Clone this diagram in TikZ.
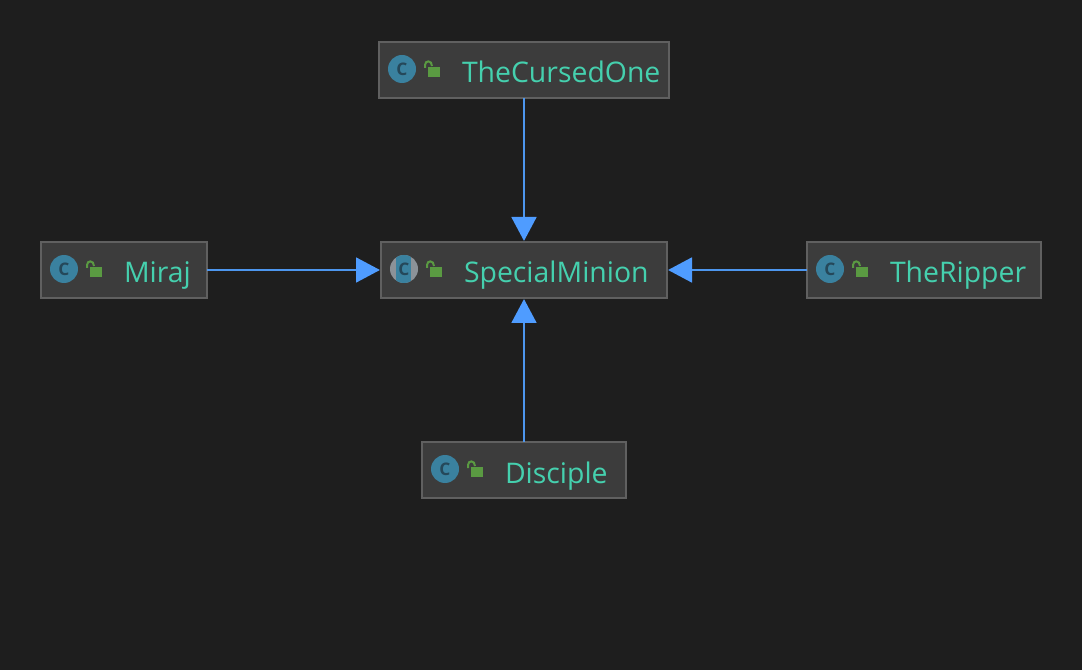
\documentclass[tikz,border=0pt]{standalone}
\usepackage{fontspec}
\setmainfont{Open Sans}
\usepackage{tikz}
\usetikzlibrary{arrows.meta, positioning}
\usepackage{xcolor}
\definecolor{canvasbg}{HTML}{1E1E1E}
\definecolor{boxbg}{HTML}{3C3C3C}
\definecolor{boxline}{HTML}{606060}
\definecolor{nametext}{HTML}{45D0AE}
\definecolor{iconblue}{HTML}{3A819F}
\definecolor{icongrey}{HTML}{8C9298}
\definecolor{iconmark}{HTML}{25485A}
\definecolor{lockgreen}{HTML}{5A9A42}
\definecolor{arrline}{HTML}{4D96EE}
\definecolor{arrhead}{HTML}{4F9CFF}

\newcommand{\classname}[1]{\hspace*{62.25pt}\raisebox{-9.75pt}[0pt][0pt]{#1}}
\newcommand{\classmark}[2]{%
    \begin{scope}[shift={(#1.west)}]
        \node[#2] (#1icon) at (23,-1) {C};
        \fill[lockgreen] (49,-3) rectangle (61,7);
        \draw[lockgreen, line width=1.5pt] (46,-2) -- (46,-5) .. controls (46,-10) and (53,-10) .. (53,-4);
    \end{scope}%
}

\begin{document}
\begin{tikzpicture}[
    x=0.75pt, y=-0.75pt,
    classbox/.style={rectangle, draw=boxline, fill=boxbg, line width=1pt, outer sep=0pt,
                inner xsep=0pt, inner ysep=0pt, minimum height=42pt, align=left,
                text=nametext, font=\fontsize{21.3}{24}\selectfont, text width=#1*0.75pt},
    iconc/.style={circle, fill=iconblue, minimum size=21pt, inner sep=0pt, text=iconmark,
                font=\fontsize{13}{13}\selectfont\bfseries},
    icona/.style={iconc, fill=icongrey, path picture={
                \fill[iconblue] ([xshift=-6pt]path picture bounding box.south) rectangle ([xshift=5.25pt]path picture bounding box.north);}},
    arr/.style={-{Triangle[length=18pt, width=18.5pt, color=arrhead]}, arrline, line width=2.2pt, shorten >=0.75pt}
]
    \fill[canvasbg] (0,0) rectangle (1082,670);

    \node[classbox=286] (spm) at (524,270) {\classname{SpecialMinion}};
    \node[classbox=290, above=108pt of spm] (tco) {\classname{TheCursedOne}};
    \node[classbox=166, left=130.5pt of spm] (mir) {\classname{Miraj}};
    \node[classbox=234, right=105pt of spm] (rip) {\classname{TheRipper}};
    \node[classbox=204, below=108pt of spm] (dis) {\classname{Disciple}};

    \classmark{spm}{icona}
    \classmark{tco}{iconc}
    \classmark{mir}{iconc}
    \classmark{rip}{iconc}
    \classmark{dis}{iconc}

    \draw[arr] (tco) -- (spm);
    \draw[arr] (mir) -- (spm);
    \draw[arr] (rip) -- (spm);
    \draw[arr] (dis) -- (spm);
\end{tikzpicture}
\end{document}
